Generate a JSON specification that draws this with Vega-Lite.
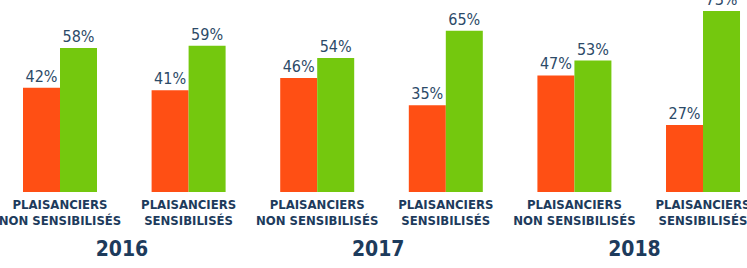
{
  "$schema": "https://vega.github.io/schema/vega-lite/v6.json",
  "width": 747,
  "height": 192,
  "autosize": {"type": "none"},
  "padding": {"left": 0, "top": 0, "right": 0, "bottom": 76},
  "background": "white",
  "config": {"view": {"stroke": null}, "font": "DejaVu Sans Condensed, DejaVu Sans, sans-serif"},
  "data": {"values": [
    {"group": "2016|PLAISANCIERS|NON SENSIBILISÉS", "year": "2016", "serie": "A", "value": 0.42},
    {"group": "2016|PLAISANCIERS|NON SENSIBILISÉS", "year": "2016", "serie": "B", "value": 0.58},
    {"group": "2016|PLAISANCIERS|SENSIBILISÉS", "year": "2016", "serie": "A", "value": 0.41},
    {"group": "2016|PLAISANCIERS|SENSIBILISÉS", "year": "2016", "serie": "B", "value": 0.59},
    {"group": "2017|PLAISANCIERS|NON SENSIBILISÉS", "year": "2017", "serie": "A", "value": 0.46},
    {"group": "2017|PLAISANCIERS|NON SENSIBILISÉS", "year": "2017", "serie": "B", "value": 0.54},
    {"group": "2017|PLAISANCIERS|SENSIBILISÉS", "year": "2017", "serie": "A", "value": 0.35},
    {"group": "2017|PLAISANCIERS|SENSIBILISÉS", "year": "2017", "serie": "B", "value": 0.65},
    {"group": "2018|PLAISANCIERS|NON SENSIBILISÉS", "year": "2018", "serie": "A", "value": 0.47},
    {"group": "2018|PLAISANCIERS|NON SENSIBILISÉS", "year": "2018", "serie": "B", "value": 0.53},
    {"group": "2018|PLAISANCIERS|SENSIBILISÉS", "year": "2018", "serie": "A", "value": 0.27},
    {"group": "2018|PLAISANCIERS|SENSIBILISÉS", "year": "2018", "serie": "B", "value": 0.73}
  ]},
  "layer": [
    {
      "encoding": {
        "x": {
          "field": "group", "type": "nominal", "sort": null,
          "scale": {"paddingInner": 0.4246, "paddingOuter": 0.1166, "align": 0.767},
          "axis": {
            "title": null, "domain": false, "ticks": false, "labelAngle": 0,
            "labelExpr": "slice(split(datum.label, '|'), 1)",
            "labelFontSize": 13, "labelFontWeight": "bold", "labelColor": "#1d3b5c",
            "labelPadding": 6, "labelLineHeight": 16, "labelLimit": 0, "labelOverlap": false
          }
        },
        "xOffset": {"field": "serie", "type": "nominal", "sort": null, "scale": {"paddingInner": 0, "paddingOuter": 0}},
        "y": {"field": "value", "type": "quantitative", "scale": {"domain": [0, 0.774], "nice": false, "zero": true}, "axis": null}
      },
      "layer": [
        {
          "mark": {"type": "bar"},
          "encoding": {
            "color": {"field": "serie", "type": "nominal", "scale": {"domain": ["A", "B"], "range": ["#FF4F14", "#74C80E"]}, "legend": null}
          }
        },
        {
          "mark": {"type": "text", "baseline": "bottom", "dy": -3, "fontSize": 16, "color": "#2c4a68"},
          "encoding": {
            "text": {"field": "value", "type": "quantitative", "format": ".0%"}
          }
        }
      ]
    },
    {
      "data": {"values": [{"year": "2016"}, {"year": "2017"}, {"year": "2018"}]},
      "mark": {"type": "text", "baseline": "middle", "dy": 58, "fontSize": 21, "fontWeight": "bold", "color": "#1d3b5c"},
      "encoding": {
        "x": {"field": "year", "type": "ordinal", "scale": {"type": "point", "padding": 0.4576, "align": 0.52}, "axis": null},
        "y": {"datum": 0, "type": "quantitative"},
        "text": {"field": "year", "type": "nominal"}
      }
    }
  ],
  "resolve": {"scale": {"x": "independent"}}
}
